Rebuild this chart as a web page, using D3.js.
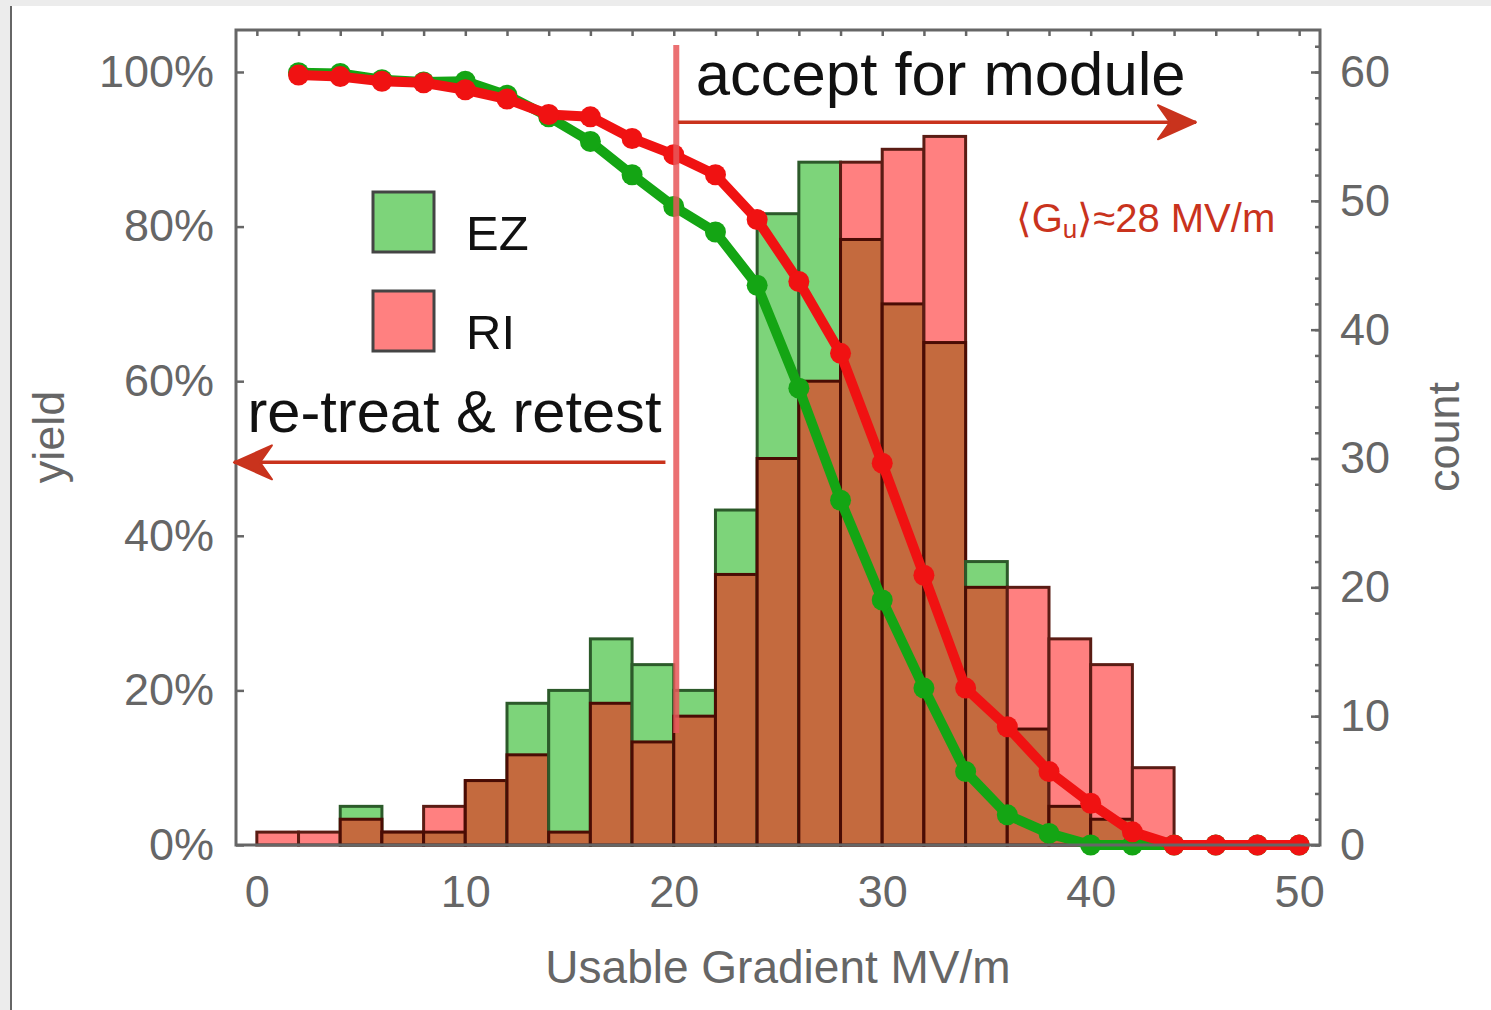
<!DOCTYPE html>
<html>
<head>
<meta charset="utf-8">
<script src="https://cdn.jsdelivr.net/npm/d3@7"></script>
<style>
  html, body { margin: 0; padding: 0; background: #fff; }
  svg { display: block; }
  text { font-family: "Helvetica Neue", Helvetica, Arial, "Liberation Sans", sans-serif; }
</style>
</head>
<body>
<svg id="chart" width="1491" height="1010"></svg>
<script>
// ---------- data ----------
const binLeft   = [0,2,4,6,8,10,12,14,16,18,20,22,24,26,28,30,32,34,36,38,40,42];
const ezCounts  = [0,0,3,1,1,5,11,12,16,14,12,26,49,53,47,42,39,22,9,3,2,0];
const riCounts  = [1,1,2,1,3,5,7,1,11,8,10,21,30,36,53,54,55,20,20,16,14,6];
const binWidth  = 2;

const gradPoints = [2,4,6,8,10,12,14,16,18,20,22,24,26,28,30,32,34,36,38,40,42,44,46,48,50];
const ezYield = [99.9,99.8,99.0,98.7,98.8,97.0,94.2,91.0,86.7,82.6,79.3,72.4,59.1,44.6,31.7,20.3,9.5,3.9,1.5,0,0,0,0,0,0];
const riYield = [99.6,99.4,98.8,98.6,97.7,96.5,94.5,94.2,91.4,89.3,86.7,80.9,72.9,63.6,49.4,34.9,20.3,15.3,9.5,5.4,1.7,0,0,0,0];

const xTicks      = [0,10,20,30,40,50];
const yieldTicks  = [0,20,40,60,80,100];
const countTicks  = [0,10,20,30,40,50,60];
const legendItems = ["EZ","RI"];

// ---------- layout ----------
const svg = d3.select("#chart");
const L = 236, R = 1320, T = 30, B = 845;

const x = d3.scaleLinear().domain([-1, 51]).range([L, R]);
const yY = d3.scaleLinear().domain([0, 105.43]).range([B, T]);
const yC = d3.scaleLinear().domain([0, 63.26]).range([B, T]);

const colEZ = "#7dd47a", colRI = "#ff8080", colBoth = "#c46a3e";
const lineEZ = "#14a514", lineRI = "#f01212";
const axisCol = "#666666", tickText = "#666666";
const annot = "#c9331d";
const FONT = '"Helvetica Neue", Helvetica, Arial, "Liberation Sans", sans-serif';

// page frame (screenshot edges)
svg.append("rect").attr("x",0).attr("y",0).attr("width",1491).attr("height",6).attr("fill","#ececec");
svg.append("rect").attr("x",0).attr("y",0).attr("width",10).attr("height",1010).attr("fill","#ececec");
svg.append("line").attr("x1",11).attr("x2",11).attr("y1",6).attr("y2",1010).attr("stroke","#333").attr("stroke-width",1.5);

// ---------- bars ----------
const bins = binLeft.map((b,i)=>({x0:b, ez:ezCounts[i], ri:riCounts[i]}));
const gBars = svg.append("g");
bins.forEach(d=>{
  const x0 = x(d.x0), w = x(d.x0+binWidth)-x(d.x0);
  const hi = Math.max(d.ez, d.ri), lo = Math.min(d.ez, d.ri);
  if (hi > 0) {
    const isEZ = d.ez > d.ri;
    gBars.append("rect").attr("x",x0).attr("width",w)
      .attr("y",yC(hi)).attr("height",yC(0)-yC(hi))
      .attr("fill", isEZ ? colEZ : colRI)
      .attr("stroke", isEZ ? "#2c5a2a" : "#5a1c14").attr("stroke-width",3);
  }
  if (lo > 0) {
    gBars.append("rect").attr("x",x0).attr("width",w)
      .attr("y",yC(lo)).attr("height",yC(0)-yC(lo))
      .attr("fill", colBoth).attr("stroke","#4a0c04").attr("stroke-width",3);
  }
});

// ---------- legend ----------
const legColors = {EZ: colEZ, RI: colRI};
legendItems.forEach((k,i)=>{
  const ly = 192 + i*99;
  svg.append("rect").attr("x",373).attr("y",ly).attr("width",61).attr("height",60)
    .attr("fill",legColors[k]).attr("stroke","#444").attr("stroke-width",3);
  svg.append("text").attr("x",466).attr("y",ly+58).text(k)
    .attr("font-size",49).attr("fill","#111");
});

// ---------- yield curves ----------
const line = d3.line().x(d=>x(d[0])).y(d=>yY(d[1]));
[[ezYield, lineEZ],[riYield, lineRI]].forEach(([vals,col])=>{
  const pts = gradPoints.map((g,i)=>[g, vals[i]]);
  svg.append("path").datum(pts).attr("d",line).attr("fill","none")
    .attr("stroke",col).attr("stroke-width",10).attr("stroke-linejoin","round").attr("stroke-linecap","round");
  svg.append("g").selectAll("circle").data(pts).join("circle")
    .attr("cx",d=>x(d[0])).attr("cy",d=>yY(d[1])).attr("r",10.5).attr("fill",col);
});

// ---------- axes frame & ticks ----------
svg.append("rect").attr("x",L).attr("y",T).attr("width",R-L).attr("height",B-T)
  .attr("fill","none").attr("stroke",axisCol).attr("stroke-width",3);

svg.append("g").attr("transform",`translate(${L},0)`)
  .call(d3.axisLeft(yY).tickValues(yieldTicks).tickFormat(d=>d+"%").tickSize(-8).tickPadding(22));
const minorCounts = d3.range(0, 63, 2);
svg.append("g").attr("transform",`translate(${R},0)`)
  .call(d3.axisRight(yC).tickValues(minorCounts).tickSize(-5).tickFormat(""));
svg.append("g").attr("transform",`translate(${R},0)`)
  .call(d3.axisRight(yC).tickValues(countTicks).tickSize(-9).tickPadding(20));
svg.append("g").attr("transform",`translate(0,${T})`)
  .call(d3.axisTop(x).tickValues(d3.range(0,51,2)).tickSize(-6).tickFormat(""));
svg.append("g").attr("transform",`translate(0,${B})`)
  .call(d3.axisBottom(x).tickValues(xTicks).tickSize(0).tickPadding(30));

svg.selectAll(".domain").remove();
svg.selectAll(".tick line").attr("stroke",axisCol).attr("stroke-width",2.5);
svg.selectAll(".tick text").attr("font-size",45).attr("fill",tickText).style("font-family",FONT);

// axis titles
svg.append("text").attr("x",x(25)).attr("y",983).attr("text-anchor","middle")
  .attr("font-size",46).attr("fill",tickText).text("Usable Gradient MV/m");
svg.append("text").attr("transform","translate(64,437) rotate(-90)").attr("text-anchor","middle")
  .attr("font-size",45).attr("fill",tickText).text("yield");
svg.append("text").attr("transform","translate(1459,437) rotate(-90)").attr("text-anchor","middle")
  .attr("font-size",45).attr("fill",tickText).text("count");

// ---------- annotations ----------
svg.append("line").attr("x1",x(20.12)).attr("x2",x(20.12)).attr("y1",yY(103.5)).attr("y2",yY(14.5))
  .attr("stroke","#e8585a").attr("stroke-width",6).attr("opacity",0.85);

function arrow(xs, xe, yv) {
  const y0 = yY(yv), a = x(xs), b = x(xe);
  svg.append("line").attr("x1",a).attr("x2",b).attr("y1",y0).attr("y2",y0)
    .attr("stroke",annot).attr("stroke-width",3.5);
  const dir = Math.sign(b - a);
  svg.append("path")
    .attr("d",`M${b},${y0} L${b-dir*38},${y0-17} L${b-dir*26},${y0} L${b-dir*38},${y0+17} Z`)
    .attr("fill",annot).attr("stroke",annot).attr("stroke-width",2).attr("stroke-linejoin","round");
}
arrow(20.2, 45.05, 93.5);
arrow(19.6, -1.1, 49.5);

svg.append("text").attr("x",x(21.05)).attr("y",95).attr("font-size",61).attr("fill","#111")
  .attr("textLength",490).attr("lengthAdjust","spacingAndGlyphs").text("accept for module");
svg.append("text").attr("x",x(-0.45)).attr("y",432).attr("font-size",60).attr("fill","#111")
  .attr("textLength",414).attr("lengthAdjust","spacingAndGlyphs").text("re-treat & retest");

const gu = svg.append("text").attr("x",x(36.4)).attr("y",232).attr("font-size",40).attr("fill",annot);
gu.append("tspan").text("\u27E8G");
gu.append("tspan").attr("font-size",26).attr("dy",6).text("u");
gu.append("tspan").attr("dy",-6).text("\u27E9\u224828 MV/m");
</script>
</body>
</html>
